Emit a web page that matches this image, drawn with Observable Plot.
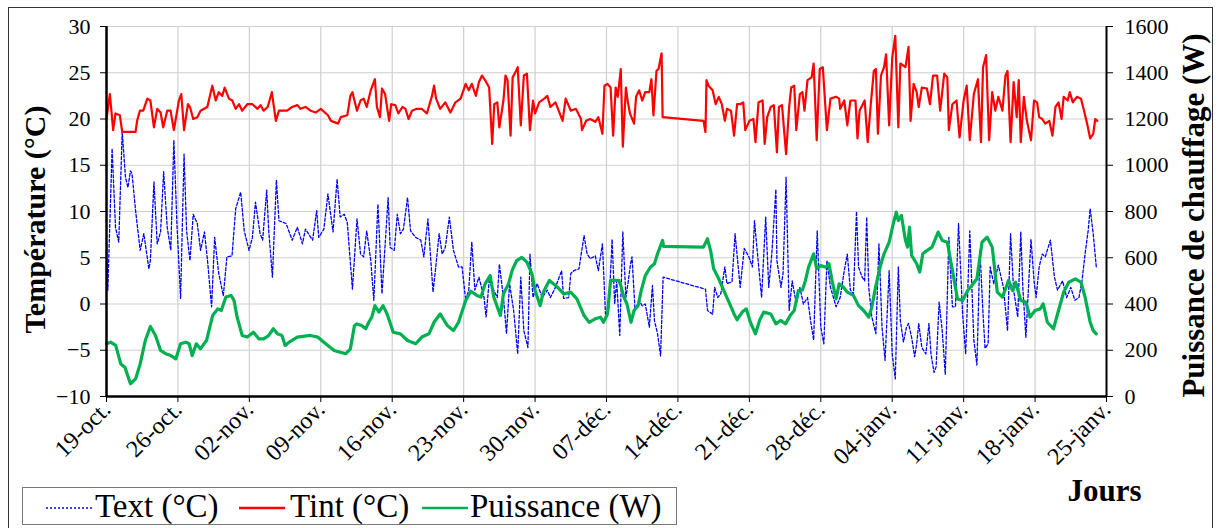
<!DOCTYPE html>
<html><head><meta charset="utf-8">
<script src="https://cdn.jsdelivr.net/npm/d3@7"></script>
<script src="https://cdn.jsdelivr.net/npm/@observablehq/plot@0.6"></script>
<style>
html,body{margin:0;padding:0;background:#fff;width:1218px;height:528px;overflow:hidden;}
#frame{position:absolute;left:8px;top:7px;width:1205px;height:540px;border:1.5px solid #333;box-sizing:border-box;}
#chart{position:absolute;left:0;top:0;}
#chart svg, #chart svg text{font-family:"Liberation Serif","Times New Roman",serif !important;}
#legend{position:absolute;left:22px;top:487px;width:655px;height:38px;border:1px solid #777;box-sizing:border-box;background:#fff;
 font-family:"Liberation Serif",serif;font-size:33px;line-height:36px;white-space:nowrap;}
#legend span.item{position:absolute;top:0;}
#legend svg{position:absolute;top:0;}
</style></head>
<body>
<div id="frame"></div>
<div id="chart"></div>
<div id="legend"></div>
<script>
// x = days since 19-oct
const weekLabels = ["19-oct.","26-oct.","02-nov.","09-nov.","16-nov.","23-nov.","30-nov.","07-déc.","14-déc.","21-déc.","28-déc.","04-janv.","11-janv.","18-janv.","25-janv."];
const tempTicks = [-10,-5,0,5,10,15,20,25,30];
const seriesNames = ["Text (°C)","Tint (°C)","Puissance (W)"];

// Tint (°C) : [day, value]
const tint = [[0,20.0],[0.33,22.7],[0.65,18.8],[0.88,20.6],[1.31,20.4],[1.54,18.6],[2.85,18.6],[3.0,19.8],[3.27,20.9],[3.6,20.9],[4.0,22.2],[4.3,22.0],[4.65,19.1],[4.97,21.1],[5.3,20.7],[5.56,19.1],[5.95,20.9],[6.28,20.9],[6.6,18.8],[7.1,22.0],[7.33,22.7],[7.6,18.8],[7.98,21.6],[8.18,21.3],[8.5,20.0],[8.9,20.2],[9.22,20.9],[9.88,21.3],[10.37,23.6],[10.7,22.0],[11.0,22.9],[11.35,22.5],[11.58,23.4],[12.0,22.2],[12.33,22.0],[12.66,21.1],[12.99,21.6],[13.3,20.9],[13.8,21.6],[14.3,21.6],[14.8,21.1],[15.1,21.5],[15.4,20.9],[15.8,21.3],[16.2,22.9],[16.6,19.8],[16.9,20.9],[17.7,20.9],[18.2,21.3],[18.7,21.5],[19.0,21.1],[19.5,21.3],[20.0,20.9],[20.5,20.7],[21.0,21.1],[21.7,20.4],[22.0,19.8],[22.7,19.5],[22.96,20.2],[23.6,20.4],[23.9,22.5],[24.1,22.9],[24.55,20.9],[24.9,22.0],[25.2,22.2],[25.5,21.3],[25.9,23.1],[26.3,24.3],[26.5,21.3],[26.8,20.2],[27.0,23.3],[27.3,22.7],[27.7,19.8],[27.9,21.6],[28.3,21.5],[28.6,20.6],[29.0,21.3],[29.3,21.1],[29.6,20.0],[29.95,20.9],[30.4,21.1],[30.9,21.1],[31.4,20.6],[31.9,22.5],[32.1,23.6],[32.3,22.2],[32.7,21.1],[33.2,21.8],[33.7,20.7],[34.2,21.8],[34.7,22.2],[35.2,23.8],[35.5,23.1],[35.8,23.8],[36.2,22.5],[36.5,24.0],[36.8,24.7],[37.1,24.2],[37.5,23.4],[37.8,17.3],[38.0,21.6],[38.3,21.8],[38.5,19.1],[38.9,22.0],[39.1,24.7],[39.3,24.2],[39.6,18.2],[39.8,24.5],[40.1,25.1],[40.3,25.6],[40.6,19.3],[40.9,24.7],[41.2,24.9],[41.5,18.8],[41.8,22.0],[42.0,20.6],[42.4,21.8],[42.9,22.2],[43.2,22.5],[43.5,21.3],[44.0,21.8],[44.7,19.8],[45.0,22.2],[45.5,20.9],[46.0,21.1],[46.5,20.0],[46.6,18.8],[47.0,19.8],[47.4,20.0],[47.9,19.7],[48.2,20.2],[48.6,18.4],[48.8,23.6],[49.1,23.8],[49.4,23.4],[49.65,18.2],[49.9,23.4],[50.1,22.4],[50.4,25.4],[50.6,17.0],[50.9,23.4],[51.1,21.8],[51.3,20.6],[51.7,19.5],[51.9,22.4],[52.2,23.1],[52.5,22.0],[52.8,22.9],[53.2,22.9],[53.4,24.3],[53.6,20.4],[53.9,25.2],[54.1,25.4],[54.4,27.1],[54.5,20.2],[58.5,19.8],[58.7,18.6],[58.8,24.2],[59.0,23.6],[59.4,23.1],[59.7,21.6],[60.0,22.4],[60.3,21.6],[60.6,19.8],[60.8,21.1],[61.2,20.9],[61.5,18.2],[61.8,21.6],[62.1,21.6],[62.4,21.8],[62.6,18.8],[63.0,19.8],[63.4,20.0],[63.6,17.5],[63.9,21.8],[64.3,22.0],[64.5,17.3],[64.75,20.2],[65.1,21.3],[65.4,21.5],[65.7,16.4],[65.9,21.3],[66.2,21.5],[66.6,16.2],[66.9,21.3],[67.1,23.4],[67.4,23.6],[67.6,18.8],[67.95,22.7],[68.2,22.9],[68.4,20.9],[68.7,24.2],[69.1,24.5],[69.3,26.0],[69.6,17.7],[69.9,25.4],[70.2,25.6],[70.6,18.8],[70.95,22.2],[71.5,22.4],[71.8,22.2],[71.9,21.1],[72.3,22.0],[72.6,19.3],[72.9,22.0],[73.4,22.0],[73.6,17.9],[73.8,20.9],[74.3,22.0],[74.6,17.5],[74.9,21.6],[75.2,25.2],[75.4,25.4],[75.6,18.4],[75.9,24.7],[76.2,25.6],[76.4,27.0],[76.7,19.3],[77.0,26.6],[77.3,29.0],[77.6,19.1],[77.8,26.0],[78.3,25.6],[78.6,27.8],[78.8,19.8],[79.1,23.8],[79.4,22.9],[79.6,21.3],[79.9,23.4],[80.4,23.3],[80.7,21.6],[81.0,24.7],[81.4,24.7],[81.7,20.9],[82.1,24.9],[82.4,24.5],[82.55,18.8],[82.9,21.6],[83.3,22.0],[83.6,18.0],[84.0,22.0],[84.3,23.6],[84.6,17.7],[85.0,22.7],[85.4,24.3],[85.7,17.5],[85.9,25.6],[86.2,26.9],[86.5,17.7],[86.8,22.9],[87.1,20.9],[87.4,22.4],[87.8,20.9],[88.1,24.7],[88.3,25.2],[88.6,17.5],[88.9,24.0],[89.2,20.2],[89.4,24.2],[89.6,17.5],[89.9,22.4],[90.2,19.8],[90.6,17.7],[90.9,22.0],[91.2,21.8],[91.4,20.2],[91.7,20.0],[92.0,19.5],[92.4,19.8],[92.7,18.2],[93.0,21.3],[93.3,21.8],[93.6,20.0],[93.8,22.4],[94.2,22.0],[94.4,22.9],[94.7,21.8],[95.1,22.4],[95.5,22.2],[95.8,20.9],[96.1,19.5],[96.4,17.9],[96.7,18.4],[96.9,20.0],[97.1,19.8]];

// Text (°C) : [day, value]
const text = [[0,6.6],[0.13,1.5],[0.55,16.8],[0.88,8.3],[1.2,6.7],[1.54,18.6],[1.86,13.7],[2.1,12.6],[2.35,14.4],[2.5,14.1],[2.85,10.1],[3.3,5.8],[3.66,7.6],[4.15,3.8],[4.3,4.7],[4.65,13.2],[4.97,6.5],[5.3,7.8],[5.6,14.3],[5.95,8.3],[6.3,5.8],[6.6,17.7],[6.9,8.7],[7.26,0.6],[7.6,16.2],[7.85,7.9],[8.18,4.7],[8.5,9.7],[8.9,8.7],[9.22,5.8],[9.6,7.8],[9.9,4.7],[10.3,-0.3],[10.6,7.2],[11.0,3.3],[11.45,0.9],[11.8,5.1],[12.3,5.2],[12.66,10.3],[13.15,12.1],[13.5,7.9],[13.97,5.8],[14.3,7.2],[14.6,11.0],[15.05,7.6],[15.3,6.9],[15.7,12.3],[15.9,7.9],[16.26,2.9],[16.65,13.4],[16.9,9.0],[17.6,8.7],[18.2,6.9],[18.7,8.3],[19.2,6.5],[19.5,8.1],[20.2,6.9],[20.6,10.1],[20.8,7.2],[21.3,8.1],[21.7,11.9],[22.2,7.8],[22.6,13.5],[22.9,9.4],[23.3,9.7],[23.6,8.8],[24.1,1.6],[24.55,9.2],[24.9,5.4],[25.2,5.1],[25.5,7.9],[25.9,4.7],[26.2,0.4],[26.6,10.8],[27.0,1.1],[27.6,11.5],[27.8,6.1],[28.2,5.8],[28.5,9.7],[28.8,7.6],[29.1,8.1],[29.5,11.5],[29.8,7.9],[30.3,7.2],[30.8,6.9],[31.1,5.1],[31.5,9.2],[32.0,1.3],[32.2,3.3],[32.6,7.6],[32.9,5.4],[33.2,6.1],[33.6,9.4],[34.0,5.8],[34.5,4.0],[34.85,4.0],[35.2,0.4],[35.5,1.5],[35.8,6.7],[36.1,1.5],[36.5,2.9],[37.0,0.7],[37.2,-1.4],[37.5,2.5],[37.95,1.5],[38.3,0.7],[38.5,4.3],[38.9,0.7],[39.2,-3.2],[39.5,2.2],[39.9,-0.7],[40.3,-5.4],[40.6,2.9],[40.9,-2.9],[41.3,-4.7],[41.5,5.4],[41.8,0.7],[42.2,2.2],[42.7,0.7],[43.2,1.5],[43.5,0.7],[44.0,1.8],[44.6,3.6],[44.8,0.6],[45.3,0.7],[45.5,3.3],[45.8,3.6],[46.3,3.8],[46.8,7.4],[47.1,5.4],[47.4,4.9],[47.9,5.2],[48.2,3.6],[48.6,6.5],[48.9,-1.1],[49.2,-0.7],[49.3,1.1],[49.55,7.0],[49.8,0.0],[50.0,2.5],[50.3,-3.4],[50.6,7.8],[50.9,0.7],[51.1,2.2],[51.35,4.3],[51.5,5.1],[51.8,-0.7],[52.2,0.4],[52.5,-0.2],[52.8,0.0],[53.2,-2.5],[53.5,2.0],[53.7,-1.8],[54.0,-3.2],[54.3,-5.6],[54.55,2.9],[58.7,1.6],[58.9,-0.7],[59.4,-1.1],[59.6,1.8],[59.9,0.7],[60.2,1.1],[60.6,4.0],[60.8,2.2],[61.3,2.4],[61.6,7.6],[62.1,1.8],[62.5,6.0],[62.95,5.1],[63.3,4.0],[63.5,9.0],[63.8,5.4],[64.2,0.7],[64.6,9.4],[64.9,1.8],[65.2,5.4],[65.6,12.4],[65.7,4.7],[66.1,1.8],[66.3,3.3],[66.6,13.7],[66.9,-0.7],[67.2,2.5],[67.6,0.0],[67.95,1.8],[68.3,0.0],[68.7,0.7],[69.0,-1.8],[69.3,-3.9],[69.65,7.9],[70.0,-2.5],[70.3,-4.3],[70.6,4.7],[70.95,1.8],[71.5,-0.3],[71.9,0.7],[72.3,3.6],[72.6,5.4],[72.9,1.5],[73.2,1.1],[73.5,10.0],[73.7,4.0],[74.05,2.9],[74.3,2.5],[74.5,9.4],[74.7,1.8],[75.0,-1.4],[75.4,-3.2],[75.7,6.5],[76.0,-2.5],[76.3,-6.1],[76.7,3.6],[77.0,-5.4],[77.3,-8.1],[77.6,4.0],[77.8,-1.8],[78.1,-4.1],[78.4,-2.5],[78.6,-2.1],[78.9,-3.6],[79.2,-5.7],[79.4,-4.3],[79.6,-2.1],[79.9,-4.7],[80.3,-5.4],[80.6,-2.1],[80.8,-5.4],[81.1,-7.4],[81.3,-6.8],[81.6,0.2],[81.9,-2.9],[82.2,-7.6],[82.55,7.2],[82.9,-0.3],[83.2,-0.3],[83.5,8.7],[83.9,-1.1],[84.2,-5.4],[84.6,7.9],[85.0,-3.9],[85.3,-6.6],[85.6,5.8],[85.9,-1.1],[86.1,-4.8],[86.4,-4.3],[86.6,4.0],[86.96,2.2],[87.4,4.2],[87.9,1.8],[88.3,-2.9],[88.6,7.6],[88.9,1.5],[89.3,-1.4],[89.6,7.8],[89.8,1.8],[90.1,-3.6],[90.6,7.0],[90.9,2.5],[91.1,0.7],[91.4,4.0],[91.7,5.4],[92.0,5.1],[92.5,6.9],[92.9,2.9],[93.2,1.5],[93.7,2.5],[94.1,0.7],[94.5,1.8],[94.9,0.4],[95.3,0.7],[95.6,2.5],[95.9,5.4],[96.2,7.9],[96.4,10.3],[96.7,7.6],[97.0,4.0]];

// Puissance (W) : [day, value]
const puissance = [[0,228],[0.4,235],[0.9,221],[1.4,141],[1.8,127],[2.35,55],[2.85,76],[3.3,141],[3.8,242],[4.3,303],[4.8,264],[5.3,199],[5.8,185],[6.3,177],[6.8,163],[7.26,228],[7.75,235],[8.1,228],[8.4,177],[8.8,228],[9.2,206],[9.8,242],[10.4,350],[10.9,379],[11.25,372],[11.7,430],[12.2,437],[12.5,415],[12.8,343],[13.3,264],[13.8,257],[14.4,278],[14.95,249],[15.4,249],[15.9,264],[16.35,293],[16.75,271],[17.2,264],[17.5,221],[17.9,235],[18.7,257],[20.0,264],[20.7,257],[21.3,235],[22.3,199],[23.45,185],[23.9,206],[24.3,307],[24.55,314],[25.0,307],[25.4,293],[25.7,321],[26.0,343],[26.3,393],[26.7,365],[27.1,393],[27.5,357],[28.1,278],[28.8,271],[29.5,242],[30.3,228],[30.9,257],[31.6,271],[32.1,321],[32.7,357],[33.4,307],[34.0,285],[34.5,321],[35.2,415],[35.7,455],[36.3,437],[36.7,430],[37.1,487],[37.6,523],[37.95,430],[38.6,350],[38.9,444],[39.4,487],[39.75,545],[40.2,588],[40.7,602],[41.2,581],[41.7,530],[42.0,458],[42.5,393],[42.8,451],[43.4,502],[44.2,473],[44.8,444],[45.5,451],[46.1,422],[46.8,350],[47.3,321],[47.9,336],[48.4,343],[48.7,321],[49.1,357],[49.4,502],[49.9,502],[50.2,502],[50.4,480],[50.7,430],[51.0,401],[51.4,321],[51.7,372],[52.1,393],[52.4,458],[52.8,523],[53.3,559],[53.7,574],[54.0,617],[54.5,675],[54.6,649],[58.5,646],[58.9,682],[59.2,631],[59.5,552],[60.0,509],[60.5,458],[61.0,408],[61.5,357],[61.8,332],[62.3,365],[62.7,379],[63.1,321],[63.6,271],[64.0,329],[64.4,365],[65.1,357],[65.6,314],[66.05,329],[66.55,314],[67.0,350],[67.4,372],[67.8,458],[68.2,461],[68.5,502],[68.8,559],[69.3,617],[69.6,552],[70.0,566],[70.5,559],[70.8,574],[71.1,502],[71.5,422],[71.8,487],[72.2,473],[72.6,451],[73.2,437],[73.7,393],[74.2,372],[74.7,343],[75.0,386],[75.4,480],[75.85,566],[76.2,617],[76.7,667],[77.1,747],[77.4,797],[77.6,761],[77.9,783],[78.3,675],[78.5,646],[78.7,732],[78.9,610],[79.4,574],[79.7,538],[80.0,617],[80.4,631],[80.9,646],[81.5,711],[81.9,675],[82.4,667],[82.9,545],[83.4,422],[83.9,415],[84.4,458],[84.8,480],[85.3,509],[85.8,667],[86.3,689],[86.8,646],[87.3,451],[87.8,430],[88.1,465],[88.4,502],[88.8,458],[89.1,494],[89.6,415],[90.1,408],[90.5,343],[91.0,372],[91.5,379],[91.8,401],[92.2,321],[92.8,293],[93.3,372],[93.8,451],[94.3,494],[94.95,509],[95.5,494],[95.9,430],[96.4,321],[96.7,285],[97.0,271]];

const colors = {text:"#0000ff", tint:"#ff0000", puissance:"#00b050"};
// the right axis (W) shares the left one: 0 W ↔ -10 °C, 1600 W ↔ 30 °C
const wToC = w => w / 40 - 10;
const cToW = c => String((c + 10) * 40);
const weekTicks = weekLabels.map((_, i) => i * 7);
const font = "Liberation Serif";

const chart = Plot.plot({
  width: 1218, height: 528,
  marginLeft: 106, marginRight: 112, marginTop: 26, marginBottom: 132,
  x: {domain: [0, 98]},
  y: {domain: [-10, 30]},
  style: {fontFamily: font, fontSize: "21px", background: "transparent", color: "#000"},
  marks: [
    Plot.gridY(tempTicks, {stroke: "#cfcfcf", strokeOpacity: 1, strokeWidth: 1.2}),
    Plot.gridX(weekTicks, {stroke: "#cfcfcf", strokeOpacity: 1, strokeWidth: 1.2}),
    Plot.line(text, {x: d => d[0], y: d => d[1], stroke: colors.text, strokeWidth: 1.3, strokeDasharray: "3,2"}),
    Plot.line(tint, {x: d => d[0], y: d => d[1], stroke: colors.tint, strokeWidth: 2.2}),
    Plot.line(puissance, {x: d => d[0], y: d => wToC(d[1]), stroke: colors.puissance, strokeWidth: 3.2}),
    Plot.ruleX([0], {stroke: "#000", strokeWidth: 2.5}),
    Plot.ruleX([98], {stroke: "#000", strokeWidth: 2}),
    Plot.ruleY([-10], {stroke: "#000", strokeWidth: 2.5}),
    Plot.axisY(tempTicks, {anchor: "left", tickSize: 6, tickPadding: 10, label: null, fontSize: 22, fontFamily: font}),
    Plot.axisY(tempTicks, {anchor: "right", tickSize: 6, tickPadding: 12, label: null, fontSize: 22, fontFamily: font, tickFormat: cToW}),
    Plot.axisX(weekTicks, {anchor: "bottom", tickSize: 6, tickPadding: 3, label: null, fontSize: 24, fontFamily: font, tickRotate: -45,
      tickFormat: d => weekLabels[d / 7]}),
    Plot.text(["Température (°C)"], {frameAnchor: "left", textAnchor: "middle", dx: -71, dy: 8, rotate: -90, fontSize: 30, fontWeight: "bold", fontFamily: font, text: d => d}),
    Plot.text(["Puissance de chauffage (W)"], {frameAnchor: "right", textAnchor: "middle", dx: 88, dy: 4, rotate: -90, fontSize: 31, fontWeight: "bold", fontFamily: font, text: d => d}),
    Plot.text(["Jours"], {frameAnchor: "bottom-right", textAnchor: "middle", dx: -2, dy: 104, fontSize: 31, fontWeight: "bold", fontFamily: font, text: d => d})
  ]
});
document.getElementById("chart").appendChild(chart);

// legend
const legend = document.getElementById("legend");
const items = [
  {name: seriesNames[0], color: colors.text, dash: "2,2", w: 1.5, x: 22, tx: 72},
  {name: seriesNames[1], color: colors.tint, dash: null, w: 2.5, x: 215, tx: 267},
  {name: seriesNames[2], color: colors.puissance, dash: null, w: 2.5, x: 398, tx: 447}
];
for (const it of items) {
  const svg = d3.create("svg").attr("width", 48).attr("height", 36).style("left", it.x + "px");
  svg.append("line").attr("x1", 1).attr("x2", 47).attr("y1", 20).attr("y2", 20)
    .attr("stroke", it.color).attr("stroke-width", it.w).attr("stroke-dasharray", it.dash);
  legend.appendChild(svg.node());
  const s = document.createElement("span");
  s.className = "item"; s.style.left = it.tx + "px"; s.textContent = it.name;
  legend.appendChild(s);
}
</script>
</body></html>
